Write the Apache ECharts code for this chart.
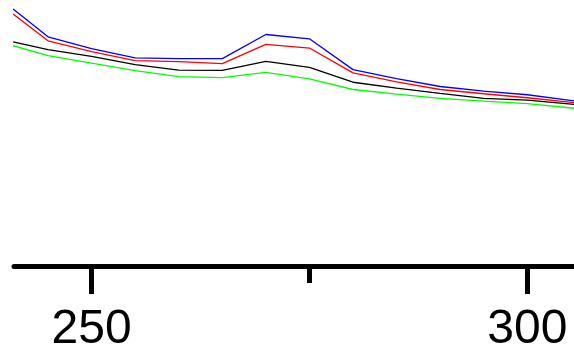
<!DOCTYPE html>
<html>
<head>
<meta charset="utf-8">
<script src="https://cdn.jsdelivr.net/npm/echarts@6/dist/echarts.min.js"></script>
<style>html,body{margin:0;padding:0;background:#fff;}#c{width:574px;height:354px;}</style>
</head>
<body>
<div id="c"></div>
<script>
const wavelengths = [241, 245, 250, 255, 260, 265, 270, 275, 280, 285, 290, 295, 300, 305.5];
const blueSeries  = [2.585, 2.305, 2.185, 2.092, 2.085, 2.085, 2.328, 2.285, 1.975, 1.884, 1.805, 1.758, 1.722, 1.658];
const redSeries   = [2.535, 2.265, 2.155, 2.065, 2.055, 2.035, 2.228, 2.192, 1.942, 1.851, 1.775, 1.732, 1.692, 1.642];
const blackSeries = [2.255, 2.175, 2.108, 2.025, 1.970, 1.968, 2.058, 1.998, 1.848, 1.788, 1.735, 1.685, 1.668, 1.625];
const greenSeries = [2.215, 2.115, 2.040, 1.965, 1.905, 1.895, 1.948, 1.882, 1.775, 1.728, 1.685, 1.658, 1.632, 1.585];
const majorTicks = [250, 300];
const minorTicks = [275];

function pairs(ys) { return wavelengths.map((x, i) => [x, ys[i]]); }
function line(name, ys, color) {
  return { name: name, type: 'line', data: pairs(ys), symbol: 'none', xAxisIndex: 0, clip: true,
    lineStyle: { color: color, width: 1.3 }, itemStyle: { color: color } };
}

const chart = echarts.init(document.getElementById('c'), null, { renderer: 'canvas' });
chart.setOption({
  animation: false,
  backgroundColor: '#ffffff',
  grid: { left: 14, right: 0, top: 0, bottom: 86.5 },
  xAxis: [
    { type: 'value', min: 241.1, max: 305.36, position: 'bottom',
      splitLine: { show: false },
      axisLine: { show: true, lineStyle: { color: '#000', width: 5 } },
      axisTick: { show: true, customValues: majorTicks, length: 28, lineStyle: { color: '#000', width: 5 } },
      axisLabel: { show: true, customValues: majorTicks, margin: 40, fontSize: 48,
        fontFamily: 'Liberation Sans, Arial, sans-serif', color: '#000' } },
    { type: 'value', min: 241.1, max: 305.36, position: 'bottom',
      splitLine: { show: false },
      axisLine: { show: false },
      axisTick: { show: true, customValues: minorTicks, length: 17, lineStyle: { color: '#000', width: 5 } },
      axisLabel: { show: false } }
  ],
  yAxis: { type: 'value', min: 0, max: 2.675, show: false, splitLine: { show: false } },
  series: [
    line('blue', blueSeries, '#0000ff'),
    line('red', redSeries, '#ff0000'),
    line('black', blackSeries, '#000000'),
    line('green', greenSeries, '#00ff00')
  ]
});
</script>
</body>
</html>
